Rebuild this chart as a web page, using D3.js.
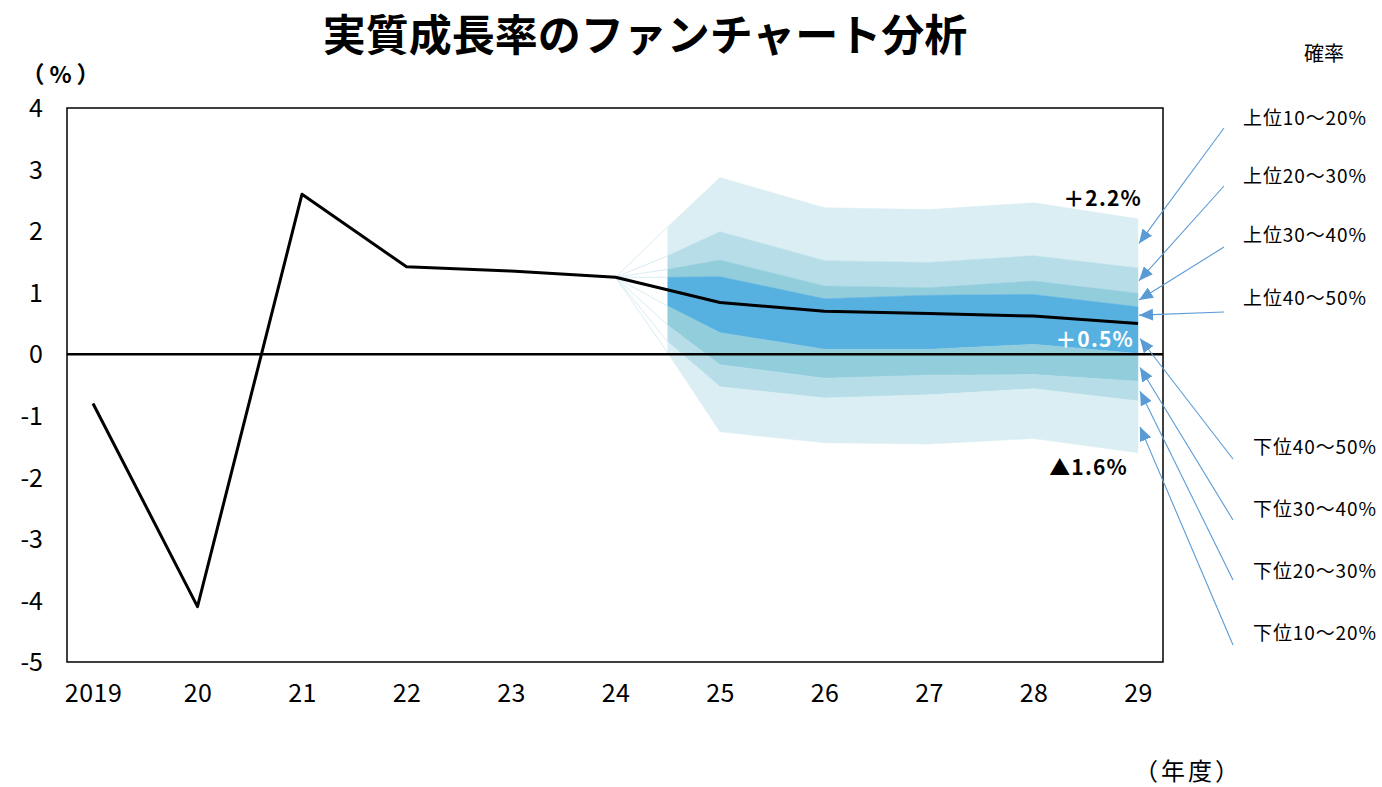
<!DOCTYPE html>
<html>
<head>
<meta charset="utf-8">
<script src="https://cdn.jsdelivr.net/npm/d3@7"></script>
<style>
  body { margin: 0; background: #fff; }
  svg { display: block; font-family: "Noto Sans CJK JP", "Noto Sans", sans-serif; }
</style>
</head>
<body>
<svg id="chart" width="1382" height="787"></svg>
<script>
// Fiscal years on the x axis
const years = ["2019", "20", "21", "22", "23", "24", "25", "26", "27", "28", "29"];
// Real GDP growth rate (%) – actuals and central projection
const growth = [-0.8, -4.1, 2.6, 1.42, 1.35, 1.25, 0.84, 0.70, 0.66, 0.62, 0.5];

// Fan chart: positions (in year index) where the fan is defined
const fanPos = [5.5, 6, 7, 8, 9, 10];
// Percentile boundaries of the projection distribution (%)
const p90 = [2.07, 2.87, 2.38, 2.35, 2.46, 2.2];
const p80 = [1.60, 1.99, 1.52, 1.49, 1.60, 1.40];
const p70 = [1.38, 1.53, 1.11, 1.08, 1.19, 0.99];
const p60 = [1.25, 1.26, 0.90, 0.96, 0.97, 0.77];
const p40 = [0.78, 0.35, 0.08, 0.08, 0.16, 0.01];
const p30 = [0.47, -0.17, -0.39, -0.34, -0.33, -0.44];
const p20 = [0.20, -0.53, -0.71, -0.66, -0.56, -0.76];
const p10 = [0.02, -1.26, -1.44, -1.46, -1.37, -1.6];

// Y-axis ticks
const yTicks = [4, 3, 2, 1, 0, -1, -2, -3, -4, -5];

// Probability band labels
const upperLabels = ["上位10～20%", "上位20～30%", "上位30～40%", "上位40～50%"];
const lowerLabels = ["下位40～50%", "下位30～40%", "下位20～30%", "下位10～20%"];

const svg = d3.select("#chart");
const plot = { left: 67, top: 108, right: 1163, bottom: 662 };

const x = d3.scaleLinear().domain([0, 10]).range([93, 1138]);
const y = d3.scaleLinear().domain([-5, 4]).range([plot.bottom, plot.top]);

const colors = {
  c1: "#daeef3",
  c2: "#b7dee8",
  c3: "#92cddc",
  c4: "#57b1e0",
  arrow: "#5b9bd5"
};

// Bands from outermost to centre
const bands = [
  { lo: p80, hi: p90, color: colors.c1 },
  { lo: p70, hi: p80, color: colors.c2 },
  { lo: p60, hi: p70, color: colors.c3 },
  { lo: p40, hi: p60, color: colors.c4 },
  { lo: p30, hi: p40, color: colors.c3 },
  { lo: p20, hi: p30, color: colors.c2 },
  { lo: p10, hi: p20, color: colors.c1 }
];

const area = d3.area()
  .x(d => x(d.pos))
  .y0(d => y(d.lo))
  .y1(d => y(d.hi));

const gFan = svg.append("g");
bands.forEach(b => {
  const pts = fanPos.map((p, i) => ({ pos: p, lo: b.lo[i], hi: b.hi[i] }));
  gFan.append("path")
    .attr("d", area(pts))
    .attr("fill", b.color)
    .attr("stroke", b.color)
    .attr("stroke-width", 0.5);
});

// Thin guide lines from the last actual point to the fan's opening edge
const startVal = growth[5];
[p90, p80, p70, p60, p40, p30, p20, p10].forEach(p => {
  gFan.append("line")
    .attr("x1", x(5)).attr("y1", y(startVal))
    .attr("x2", x(fanPos[0])).attr("y2", y(p[0]))
    .attr("stroke", "#cde7f0")
    .attr("stroke-width", 0.8);
});

// Plot frame
svg.append("rect")
  .attr("x", plot.left).attr("y", plot.top)
  .attr("width", plot.right - plot.left)
  .attr("height", plot.bottom - plot.top)
  .attr("fill", "none")
  .attr("stroke", "#000")
  .attr("stroke-width", 1.5);

// Zero line
svg.append("line")
  .attr("x1", plot.left).attr("x2", plot.right)
  .attr("y1", y(0)).attr("y2", y(0))
  .attr("stroke", "#000").attr("stroke-width", 2.5);

// Growth line
const line = d3.line().x((d, i) => x(i)).y(d => y(d));
svg.append("path")
  .attr("d", line(growth))
  .attr("fill", "none")
  .attr("stroke", "#000")
  .attr("stroke-width", 3)
  .attr("stroke-linejoin", "round");

// Axes (labels only)
const yAxis = d3.axisLeft(y)
  .tickValues(yTicks)
  .tickSize(0)
  .tickPadding(0)
  .tickFormat(d => String(d));
const gy = svg.append("g").attr("transform", "translate(43,0)").call(yAxis);
gy.select(".domain").remove();
gy.selectAll("text")
  .attr("font-size", 25)
  .attr("fill", "#000")
  .attr("font-family", "'Noto Sans CJK JP', sans-serif")
  .attr("dy", "0.35em");

const xAxis = d3.axisBottom(x)
  .tickValues(d3.range(years.length))
  .tickSize(0)
  .tickPadding(0)
  .tickFormat(i => years[i]);
const gx = svg.append("g").attr("transform", "translate(0,693)").call(xAxis);
gx.select(".domain").remove();
gx.selectAll("text")
  .attr("font-size", 25)
  .attr("fill", "#000")
  .attr("font-family", "'Noto Sans CJK JP', sans-serif")
  .attr("letter-spacing", 0.5)
  .attr("dy", "0.35em")
  .attr("y", 0);

// Title and unit labels
svg.append("text")
  .attr("x", 645).attr("y", 32)
  .attr("text-anchor", "middle")
  .attr("dominant-baseline", "central")
  .attr("font-size", 43)
  .attr("font-weight", 700)
  .text("実質成長率のファンチャート分析");

svg.append("text")
  .attr("x", 63).attr("y", 73)
  .attr("text-anchor", "middle")
  .attr("dominant-baseline", "central")
  .attr("font-size", 23)
  .attr("font-weight", 700)
  .attr("letter-spacing", 5)
  .text("（%）");

svg.append("text")
  .attr("x", 1188).attr("y", 769)
  .attr("text-anchor", "middle")
  .attr("dominant-baseline", "central")
  .attr("font-size", 24)
  .attr("letter-spacing", 3)
  .text("（年度）");

svg.append("text")
  .attr("x", 1324).attr("y", 52)
  .attr("text-anchor", "middle")
  .attr("dominant-baseline", "central")
  .attr("font-size", 20)
  .text("確率");

// Value labels at the end of the projection
const last = fanPos.length - 1;
svg.append("text")
  .attr("x", x(10) + 4).attr("y", y(p90[last]) - 22)
  .attr("text-anchor", "end")
  .attr("dominant-baseline", "central")
  .attr("font-size", 21).attr("font-weight", 700)
  .attr("letter-spacing", 1.2)
  .text("＋" + d3.format(".1f")(p90[last]) + "%");

svg.append("text")
  .attr("x", x(10) - 4).attr("y", y(growth[10]) + 15)
  .attr("text-anchor", "end")
  .attr("dominant-baseline", "central")
  .attr("font-size", 21).attr("font-weight", 700)
  .attr("letter-spacing", 1.2)
  .attr("fill", "#fff")
  .text("＋" + d3.format(".1f")(growth[10]) + "%");

svg.append("text")
  .attr("x", x(10) - 10).attr("y", y(p10[last]) + 13)
  .attr("text-anchor", "end")
  .attr("dominant-baseline", "central")
  .attr("font-size", 21).attr("font-weight", 700)
  .attr("letter-spacing", 1.2)
  .text("▲" + d3.format(".1f")(Math.abs(p10[last])) + "%");

// Arrow marker
svg.append("defs").append("marker")
  .attr("id", "tri")
  .attr("markerUnits", "userSpaceOnUse")
  .attr("viewBox", "0 0 14 12")
  .attr("refX", 14).attr("refY", 6)
  .attr("markerWidth", 14).attr("markerHeight", 12)
  .attr("orient", "auto")
  .append("path")
  .attr("d", "M0,0 L14,6 L0,12 Z")
  .attr("fill", colors.arrow);

// Band mid-points at the final year that the arrows point to
const upperTargets = [
  (p90[last] + p80[last]) / 2,
  (p80[last] + p70[last]) / 2,
  (p70[last] + p60[last]) / 2,
  (p60[last] + growth[10]) / 2
];
const lowerTargets = [
  (growth[10] + p40[last]) / 2,
  (p40[last] + p30[last]) / 2,
  (p30[last] + p20[last]) / 2,
  (p20[last] + p10[last]) / 2
];

const upperLabelY = [116, 174, 233, 296];
const upperStartY = [128, 186, 247, 312];
const lowerLabelY = [445, 507, 569, 631];
const lowerStartY = [459, 520, 580, 645];

const gArrows = svg.append("g");
upperLabels.forEach((t, i) => {
  gArrows.append("line")
    .attr("x1", 1224).attr("y1", upperStartY[i])
    .attr("x2", x(10) + 1).attr("y2", y(upperTargets[i]))
    .attr("stroke", colors.arrow).attr("stroke-width", 1.1)
    .attr("marker-end", "url(#tri)");
  svg.append("text")
    .attr("x", 1243).attr("y", upperLabelY[i])
    .attr("dominant-baseline", "central")
    .attr("font-size", 19)
    .attr("letter-spacing", 0.9)
    .text(t);
});
lowerLabels.forEach((t, i) => {
  gArrows.append("line")
    .attr("x1", 1233).attr("y1", lowerStartY[i])
    .attr("x2", x(10) + 2).attr("y2", y(lowerTargets[i]))
    .attr("stroke", colors.arrow).attr("stroke-width", 1.1)
    .attr("marker-end", "url(#tri)");
  svg.append("text")
    .attr("x", 1253).attr("y", lowerLabelY[i])
    .attr("dominant-baseline", "central")
    .attr("font-size", 19)
    .attr("letter-spacing", 0.9)
    .text(t);
});
</script>
</body>
</html>
